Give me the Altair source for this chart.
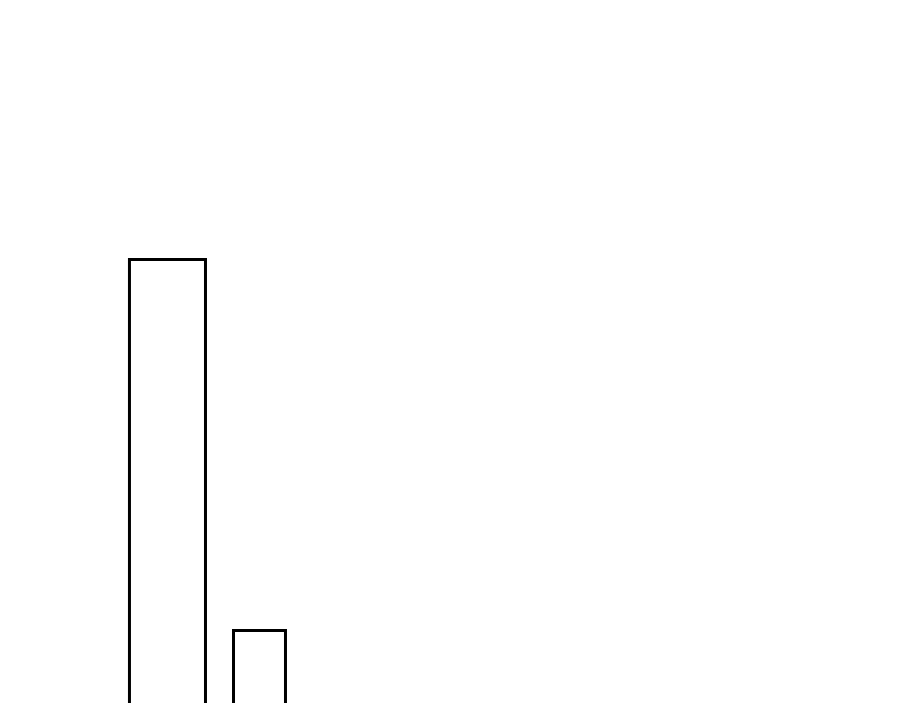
import altair as alt
import pandas as pd

# bin edges and heights
bin_start = [13.74, 25.51]
bin_end = [22.34, 31.39]
heights = [68.56, 22.19]

df = pd.DataFrame({"start": bin_start, "end": bin_end, "value": heights})

chart = (
    alt.Chart(df)
    .mark_rect(fill="white", stroke="black", strokeWidth=3)
    .encode(
        x=alt.X("start:Q", scale=alt.Scale(domain=[0, 100], nice=False, zero=False), axis=None),
        x2="end:Q",
        y=alt.Y("value:Q", scale=alt.Scale(domain=[0, 100], nice=False), axis=None),
        y2=alt.datum(0),
    )
    .properties(width=884, height=800, padding=0)
    .configure_view(stroke=None)
)

chart.save("out.html", embed_options={"renderer": "svg", "actions": False})
